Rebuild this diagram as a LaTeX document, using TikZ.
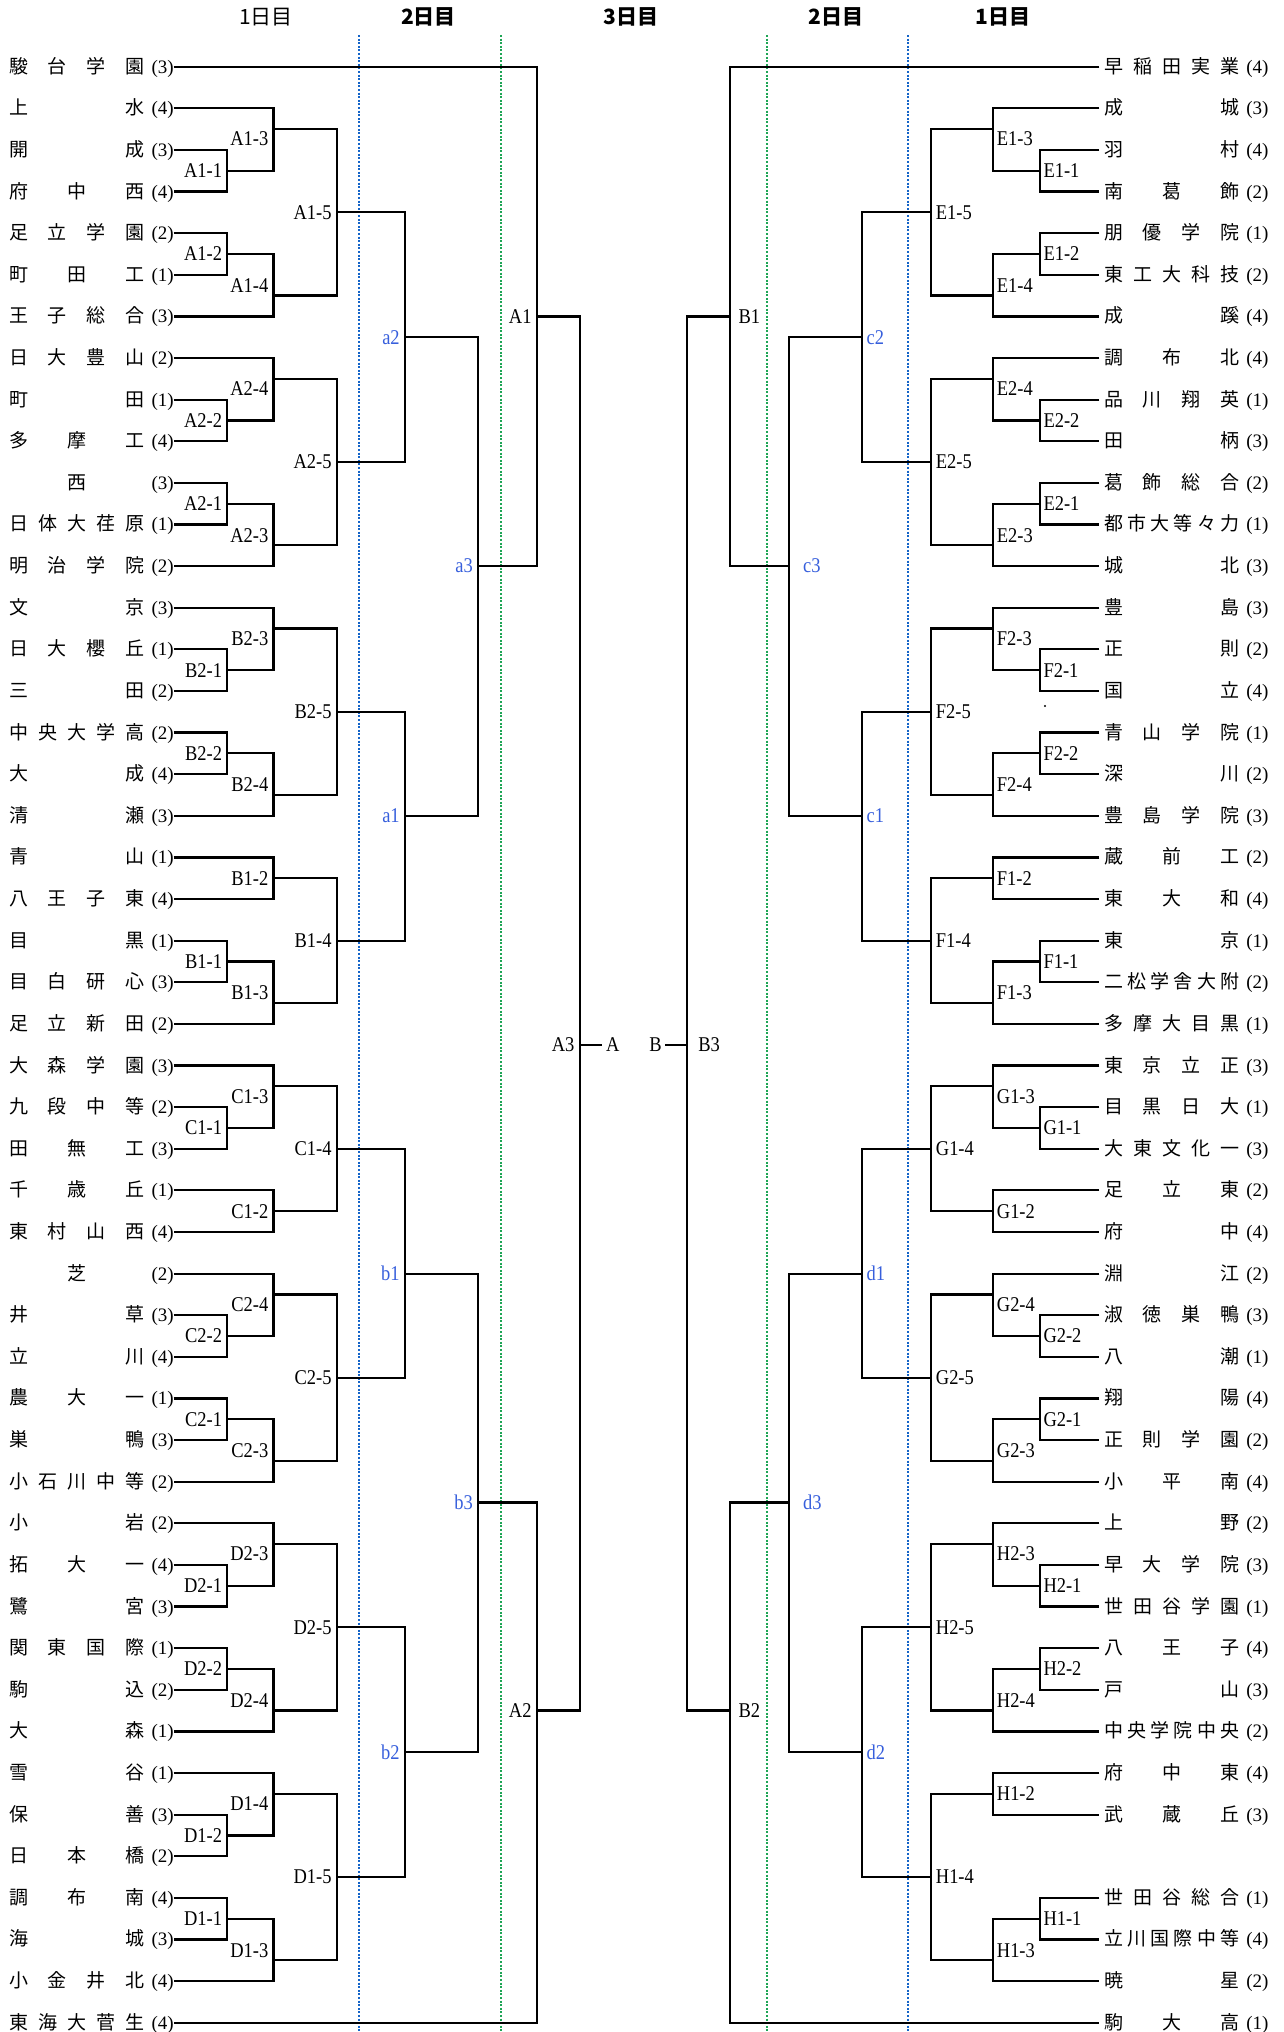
\documentclass[tikz,border=0pt]{standalone}
\usepackage{fontspec}
\setmainfont{Liberation Serif}
\newfontfamily\jp{Noto Sans CJK JP}
\newfontfamily\lbfont[FakeStretch=0.88]{Liberation Serif}
\definecolor{labblue}{RGB}{55,95,220}
\definecolor{dotblue}{RGB}{20,100,200}
\definecolor{dotgreen}{RGB}{30,165,85}
\makeatletter
\def\spr#1{\spr@a#1\relax}
\def\spr@a#1#2{#1\ifx#2\relax\else\hfill\expandafter\spr@a\expandafter#2\fi}
\makeatother
\newcommand\ry[1]{(66.7+(#1-1)*41.617)}
\tikzset{
  tm/.style={inner sep=0pt,font=\fontsize{19}{19}\selectfont},
  lb/.style={inner sep=0pt,font=\lbfont\fontsize{21}{21}\selectfont},
  bl/.style={text=labblue},
  br/.style={line width=2.2pt},
  hd/.style={inner sep=0pt,font=\jp\fontsize{21}{21}\selectfont},
  dotb/.style={dotblue,line width=2pt,dash pattern=on 2pt off 1.6pt},
  dotg/.style={dotgreen,line width=2pt,dash pattern=on 2pt off 1.6pt}
}
\newcommand\lteam[4]{%
  \node[tm,anchor=base west] (#1n) at (8.9,{\ry{#2}+6.5}) {\makebox[135.3pt][s]{\jp\spr{#3}}\makebox[36.4pt]{(#4)}};
  \coordinate (#1) at (173.5,{\ry{#2}});}
\newcommand\rteam[4]{%
  \node[tm,anchor=base west] (#1n) at (1104.1,{\ry{#2}+6.5}) {\makebox[135.1pt][s]{\jp\spr{#3}}\makebox[36pt]{(#4)}};
  \coordinate (#1) at (1099.3,{\ry{#2}});}
\newcommand\Lm[8]{%
  \coordinate (#1) at (#2,{\ry{#3}});
  \draw[br] (#4) -| (#1) |- (#5);
  \node[lb,anchor=east,#8] (#1l) at ({#2-5},{\ry{#3}+(#7)}) {#6};}
\newcommand\Rm[9]{%
  \coordinate (#1) at (#2,{\ry{#3}});
  \draw[br] (#4) -| (#1) |- (#5);
  \node[lb,anchor=west,#9] (#1l) at ({#2+#8},{\ry{#3}+(#7)}) {#6};}
\begin{document}
\begin{tikzpicture}[x=1pt,y=-1pt]
\useasboundingbox (0,0) rectangle (1283,2032);
% headers
\node[hd] (h1l) at (266,16.7) {1日目};
\node[hd] (h2l) at (428.6,16.7) {\bfseries 2日目};
\node[hd] (h3) at (631,16.7) {\bfseries 3日目};
\node[hd] (h2r) at (836,16.7) {\bfseries 2日目};
\node[hd] (h1r) at (1003,16.7) {\bfseries 1日目};
% day separators
\draw[dotb] (358.8,35) -- (358.8,2032);
\draw[dotg] (501.2,35) -- (501.2,2032);
\draw[dotg] (767.1,35) -- (767.1,2032);
\draw[dotb] (907.8,35) -- (907.8,2032);
% left teams
\lteam{l1}{1}{駿台学園}{3}
\lteam{l2}{2}{上水}{4}
\lteam{l3}{3}{開成}{3}
\lteam{l4}{4}{府中西}{4}
\lteam{l5}{5}{足立学園}{2}
\lteam{l6}{6}{町田工}{1}
\lteam{l7}{7}{王子総合}{3}
\lteam{l8}{8}{日大豊山}{2}
\lteam{l9}{9}{町田}{1}
\lteam{l10}{10}{多摩工}{4}
\lteam{l11}{11}{\hfil 西\hfil}{3}
\lteam{l12}{12}{日体大荏原}{1}
\lteam{l13}{13}{明治学院}{2}
\lteam{l14}{14}{文京}{3}
\lteam{l15}{15}{日大櫻丘}{1}
\lteam{l16}{16}{三田}{2}
\lteam{l17}{17}{中央大学高}{2}
\lteam{l18}{18}{大成}{4}
\lteam{l19}{19}{清瀬}{3}
\lteam{l20}{20}{青山}{1}
\lteam{l21}{21}{八王子東}{4}
\lteam{l22}{22}{目黒}{1}
\lteam{l23}{23}{目白研心}{3}
\lteam{l24}{24}{足立新田}{2}
\lteam{l25}{25}{大森学園}{3}
\lteam{l26}{26}{九段中等}{2}
\lteam{l27}{27}{田無工}{3}
\lteam{l28}{28}{千歳丘}{1}
\lteam{l29}{29}{東村山西}{4}
\lteam{l30}{30}{\hfil 芝\hfil}{2}
\lteam{l31}{31}{井草}{3}
\lteam{l32}{32}{立川}{4}
\lteam{l33}{33}{農大一}{1}
\lteam{l34}{34}{巣鴨}{3}
\lteam{l35}{35}{小石川中等}{2}
\lteam{l36}{36}{小岩}{2}
\lteam{l37}{37}{拓大一}{4}
\lteam{l38}{38}{鷺宮}{3}
\lteam{l39}{39}{関東国際}{1}
\lteam{l40}{40}{駒込}{2}
\lteam{l41}{41}{大森}{1}
\lteam{l42}{42}{雪谷}{1}
\lteam{l43}{43}{保善}{3}
\lteam{l44}{44}{日本橋}{2}
\lteam{l45}{45}{調布南}{4}
\lteam{l46}{46}{海城}{3}
\lteam{l47}{47}{小金井北}{4}
\lteam{l48}{48}{東海大菅生}{4}
% right teams
\rteam{r1}{1}{早稲田実業}{4}
\rteam{r2}{2}{成城}{3}
\rteam{r3}{3}{羽村}{4}
\rteam{r4}{4}{南葛飾}{2}
\rteam{r5}{5}{朋優学院}{1}
\rteam{r6}{6}{東工大科技}{2}
\rteam{r7}{7}{成蹊}{4}
\rteam{r8}{8}{調布北}{4}
\rteam{r9}{9}{品川翔英}{1}
\rteam{r10}{10}{田柄}{3}
\rteam{r11}{11}{葛飾総合}{2}
\rteam{r12}{12}{都市大等々力}{1}
\rteam{r13}{13}{城北}{3}
\rteam{r14}{14}{豊島}{3}
\rteam{r15}{15}{正則}{2}
\rteam{r16}{16}{国立}{4}
\rteam{r17}{17}{青山学院}{1}
\rteam{r18}{18}{深川}{2}
\rteam{r19}{19}{豊島学院}{3}
\rteam{r20}{20}{蔵前工}{2}
\rteam{r21}{21}{東大和}{4}
\rteam{r22}{22}{東京}{1}
\rteam{r23}{23}{二松学舎大附}{2}
\rteam{r24}{24}{多摩大目黒}{1}
\rteam{r25}{25}{東京立正}{3}
\rteam{r26}{26}{目黒日大}{1}
\rteam{r27}{27}{大東文化一}{3}
\rteam{r28}{28}{足立東}{2}
\rteam{r29}{29}{府中}{4}
\rteam{r30}{30}{淵江}{2}
\rteam{r31}{31}{淑徳巣鴨}{3}
\rteam{r32}{32}{八潮}{1}
\rteam{r33}{33}{翔陽}{4}
\rteam{r34}{34}{正則学園}{2}
\rteam{r35}{35}{小平南}{4}
\rteam{r36}{36}{上野}{2}
\rteam{r37}{37}{早大学院}{3}
\rteam{r38}{38}{世田谷学園}{1}
\rteam{r39}{39}{八王子}{4}
\rteam{r40}{40}{戸山}{3}
\rteam{r41}{41}{中央学院中央}{2}
\rteam{r42}{42}{府中東}{4}
\rteam{r43}{43}{武蔵丘}{3}
\rteam{r45}{45}{世田谷総合}{1}
\rteam{r46}{46}{立川国際中等}{4}
\rteam{r47}{47}{暁星}{2}
\rteam{r48}{48}{駒大高}{1}
\fill (1045,706) circle (1.2);
% left round 1
\Lm{A11}{227.3}{3.5}{l3}{l4}{A1-1}{0}{}
\Lm{A12}{227.3}{5.5}{l5}{l6}{A1-2}{0}{}
\Lm{A22}{227.3}{9.5}{l9}{l10}{A2-2}{0}{}
\Lm{A21}{227.3}{11.5}{l11}{l12}{A2-1}{0}{}
\Lm{B21}{227.3}{15.5}{l15}{l16}{B2-1}{0}{}
\Lm{B22}{227.3}{17.5}{l17}{l18}{B2-2}{0}{}
\Lm{B11}{227.3}{22.5}{l22}{l23}{B1-1}{0}{}
\Lm{C11}{227.3}{26.5}{l26}{l27}{C1-1}{0}{}
\Lm{C22}{227.3}{31.5}{l31}{l32}{C2-2}{0}{}
\Lm{C21}{227.3}{33.5}{l33}{l34}{C2-1}{0}{}
\Lm{D21}{227.3}{37.5}{l37}{l38}{D2-1}{0}{}
\Lm{D22}{227.3}{39.5}{l39}{l40}{D2-2}{0}{}
\Lm{D12}{227.3}{43.5}{l43}{l44}{D1-2}{0}{}
\Lm{D11}{227.3}{45.5}{l45}{l46}{D1-1}{0}{}
% left round 2
\Lm{A13}{273.5}{2.5}{l2}{A11}{A1-3}{10}{}
\Lm{A14}{273.5}{6.5}{A12}{l7}{A1-4}{-10}{}
\Lm{A24}{273.5}{8.5}{l8}{A22}{A2-4}{10}{}
\Lm{A23}{273.5}{12.5}{A21}{l13}{A2-3}{-10}{}
\Lm{B23}{273.5}{14.5}{l14}{B21}{B2-3}{10}{}
\Lm{B24}{273.5}{18.5}{B22}{l19}{B2-4}{-10}{}
\Lm{B12}{273.5}{20.5}{l20}{l21}{B1-2}{0}{}
\Lm{B13}{273.5}{23.5}{B11}{l24}{B1-3}{-10}{}
\Lm{C13}{273.5}{25.5}{l25}{C11}{C1-3}{10}{}
\Lm{C12}{273.5}{28.5}{l28}{l29}{C1-2}{0}{}
\Lm{C24}{273.5}{30.5}{l30}{C22}{C2-4}{10}{}
\Lm{C23}{273.5}{34.5}{C21}{l35}{C2-3}{-10}{}
\Lm{D23}{273.5}{36.5}{l36}{D21}{D2-3}{10}{}
\Lm{D24}{273.5}{40.5}{D22}{l41}{D2-4}{-10}{}
\Lm{D14}{273.5}{42.5}{l42}{D12}{D1-4}{10}{}
\Lm{D13}{273.5}{46.5}{D11}{l47}{D1-3}{-10}{}
% left round 3
\Lm{A15}{336.7}{4.5}{A13}{A14}{A1-5}{0}{}
\Lm{A25}{336.7}{10.5}{A24}{A23}{A2-5}{0}{}
\Lm{B25}{336.7}{16.5}{B23}{B24}{B2-5}{0}{}
\Lm{B14}{336.7}{22}{B12}{B13}{B1-4}{0}{}
\Lm{C14}{336.7}{27}{C13}{C12}{C1-4}{0}{}
\Lm{C25}{336.7}{32.5}{C24}{C23}{C2-5}{0}{}
\Lm{D25}{336.7}{38.5}{D23}{D24}{D2-5}{0}{}
\Lm{D15}{336.7}{44.5}{D14}{D13}{D1-5}{0}{}
% left day 2
\Lm{a2}{404.9}{7.5}{A15}{A25}{a2}{0}{bl}
\Lm{a1}{404.9}{19}{B25}{B14}{a1}{0}{bl}
\Lm{b1}{404.9}{30}{C14}{C25}{b1}{0}{bl}
\Lm{b2}{404.9}{41.5}{D25}{D15}{b2}{0}{bl}
\Lm{a3}{478}{13}{a2}{a1}{a3}{0}{bl}
\Lm{b3}{478}{35.5}{b1}{b2}{b3}{0}{bl}
% left day 3
\Lm{A1}{536.7}{7}{l1}{a3}{A1}{0}{}
\Lm{A2}{536.7}{40.5}{b3}{l48}{A2}{0}{}
\Lm{A3}{579.6}{24.5}{A1}{A2}{A3}{0}{}
\coordinate (Atk) at (602,{\ry{24.5}});
\draw[br] (A3) -- (Atk);
\node[lb,anchor=west] (Alab) at (606,{\ry{24.5}}) {A};
% right round 1
\Rm{E11}{1039.8}{3.5}{r3}{r4}{E1-1}{0}{3.5}{}
\Rm{E12}{1039.8}{5.5}{r5}{r6}{E1-2}{0}{3.5}{}
\Rm{E22}{1039.8}{9.5}{r9}{r10}{E2-2}{0}{3.5}{}
\Rm{E21}{1039.8}{11.5}{r11}{r12}{E2-1}{0}{3.5}{}
\Rm{F21}{1039.8}{15.5}{r15}{r16}{F2-1}{0}{3.5}{}
\Rm{F22}{1039.8}{17.5}{r17}{r18}{F2-2}{0}{3.5}{}
\Rm{F11}{1039.8}{22.5}{r22}{r23}{F1-1}{0}{3.5}{}
\Rm{G11}{1039.8}{26.5}{r26}{r27}{G1-1}{0}{3.5}{}
\Rm{G22}{1039.8}{31.5}{r31}{r32}{G2-2}{0}{3.5}{}
\Rm{G21}{1039.8}{33.5}{r33}{r34}{G2-1}{0}{3.5}{}
\Rm{H21}{1039.8}{37.5}{r37}{r38}{H2-1}{0}{3.5}{}
\Rm{H22}{1039.8}{39.5}{r39}{r40}{H2-2}{0}{3.5}{}
\Rm{H11}{1039.8}{45.5}{r45}{r46}{H1-1}{0}{3.5}{}
% right round 2
\Rm{E13}{992.7}{2.5}{r2}{E11}{E1-3}{10}{4}{}
\Rm{E14}{992.7}{6.5}{E12}{r7}{E1-4}{-10}{4}{}
\Rm{E24}{992.7}{8.5}{r8}{E22}{E2-4}{10}{4}{}
\Rm{E23}{992.7}{12.5}{E21}{r13}{E2-3}{-10}{4}{}
\Rm{F23}{992.7}{14.5}{r14}{F21}{F2-3}{10}{4}{}
\Rm{F24}{992.7}{18.5}{F22}{r19}{F2-4}{-10}{4}{}
\Rm{F12}{992.7}{20.5}{r20}{r21}{F1-2}{0}{4}{}
\Rm{F13}{992.7}{23.5}{F11}{r24}{F1-3}{-10}{4}{}
\Rm{G13}{992.7}{25.5}{r25}{G11}{G1-3}{10}{4}{}
\Rm{G12}{992.7}{28.5}{r28}{r29}{G1-2}{0}{4}{}
\Rm{G24}{992.7}{30.5}{r30}{G22}{G2-4}{10}{4}{}
\Rm{G23}{992.7}{34.5}{G21}{r35}{G2-3}{-10}{4}{}
\Rm{H23}{992.7}{36.5}{r36}{H21}{H2-3}{10}{4}{}
\Rm{H24}{992.7}{40.5}{H22}{r41}{H2-4}{-10}{4}{}
\Rm{H12}{992.7}{42.5}{r42}{r43}{H1-2}{0}{4}{}
\Rm{H13}{992.7}{46.5}{H11}{r47}{H1-3}{-10}{4}{}
% right round 3
\Rm{E15}{930.7}{4.5}{E13}{E14}{E1-5}{0}{5}{}
\Rm{E25}{930.7}{10.5}{E24}{E23}{E2-5}{0}{5}{}
\Rm{F25}{930.7}{16.5}{F23}{F24}{F2-5}{0}{5}{}
\Rm{F14}{930.7}{22}{F12}{F13}{F1-4}{0}{5}{}
\Rm{G14}{930.7}{27}{G13}{G12}{G1-4}{0}{5}{}
\Rm{G25}{930.7}{32.5}{G24}{G23}{G2-5}{0}{5}{}
\Rm{H25}{930.7}{38.5}{H23}{H24}{H2-5}{0}{5}{}
\Rm{H14}{930.7}{44.5}{H12}{H13}{H1-4}{0}{5}{}
% right day 2
\Rm{c2}{861.8}{7.5}{E15}{E25}{c2}{0}{4.6}{bl}
\Rm{c1}{861.8}{19}{F25}{F14}{c1}{0}{4.6}{bl}
\Rm{d1}{861.8}{30}{G14}{G25}{d1}{0}{4.6}{bl}
\Rm{d2}{861.8}{41.5}{H25}{H14}{d2}{0}{4.6}{bl}
\Rm{c3}{788.9}{13}{c2}{c1}{c3}{0}{14}{bl}
\Rm{d3}{788.9}{35.5}{d1}{d2}{d3}{0}{14}{bl}
% right day 3
\Rm{B1}{729.8}{7}{r1}{c3}{B1}{0}{8.6}{}
\Rm{B2}{729.8}{40.5}{d3}{r48}{B2}{0}{8.6}{}
\Rm{B3}{687.2}{24.5}{B1}{B2}{B3}{0}{11}{}
\coordinate (Btk) at (665,{\ry{24.5}});
\draw[br] (Btk) -- (B3);
\node[lb,anchor=east] (Blab) at (662,{\ry{24.5}}) {B};
\end{tikzpicture}
\end{document}
